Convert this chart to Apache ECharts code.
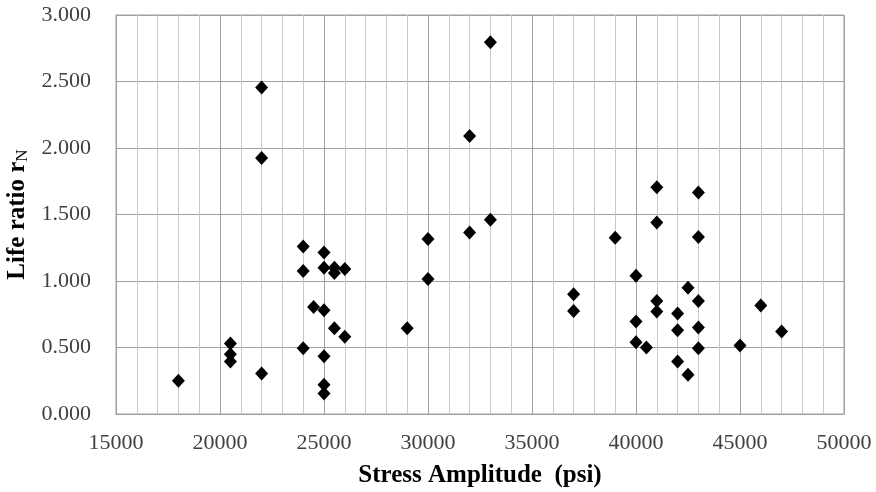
<!DOCTYPE html>
<html>
<head>
<meta charset="utf-8">
<script src="https://cdn.jsdelivr.net/npm/echarts@6/dist/echarts.min.js"></script>
<style>
  html, body { margin: 0; padding: 0; background: #fff; }
  #chart { width: 876px; height: 492px; }
</style>
</head>
<body>
<div id="chart"></div>
<script>
// Stress amplitude (psi) of each specimen
const stressAmplitude = [
  18000,
  20500, 20500, 20500,
  22000, 22000, 22000,
  24000, 24000, 24000,
  24500,
  25000, 25000, 25000, 25000, 25000, 25000,
  25500, 25500, 25500,
  26000, 26000,
  29000,
  30000, 30000,
  32000, 32000,
  33000, 33000,
  37000, 37000,
  39000,
  40000, 40000, 40000,
  40500,
  41000, 41000, 41000, 41000,
  42000, 42000, 42000,
  42500, 42500,
  43000, 43000, 43000, 43000, 43000,
  45000,
  46000,
  47000
];

// Life ratio r_N of each specimen
const lifeRatio = [
  0.250,
  0.530, 0.450, 0.395,
  2.455, 1.925, 0.305,
  1.260, 1.075, 0.495,
  0.805,
  1.215, 1.100, 0.780, 0.435, 0.220, 0.155,
  1.100, 1.060, 0.645,
  1.090, 0.580,
  0.645,
  1.315, 1.015,
  2.090, 1.365,
  2.795, 1.460,
  0.900, 0.775,
  1.325,
  1.040, 0.695, 0.540,
  0.500,
  1.705, 1.440, 0.850, 0.770,
  0.755, 0.630, 0.395,
  0.950, 0.295,
  1.665, 1.330, 0.850, 0.650, 0.495,
  0.515,
  0.815,
  0.620
];

const xTicks = { min: 15000, max: 50000, step: 5000 };
const yTicks = { min: 0, max: 3, step: 0.5 };

const points = stressAmplitude.map((s, i) => [s, lifeRatio[i]]);

const serif = '"Liberation Serif", "Times New Roman", "DejaVu Serif", serif';

const chart = echarts.init(document.getElementById('chart'), null, { renderer: 'canvas' });

chart.setOption({
  backgroundColor: '#ffffff',
  animation: false,
  grid: {
    left: 116,
    right: 32,
    top: 15,
    bottom: 78,
    show: true,
    borderColor: '#a0a0a0',
    borderWidth: 1,
    containLabel: false,
    outerBoundsMode: 'none'
  },
  xAxis: {
    type: 'value',
    min: xTicks.min,
    max: xTicks.max,
    interval: xTicks.step,
    name: 'Stress Amplitude  (psi)',
    nameLocation: 'middle',
    nameGap: 49,
    nameTextStyle: { fontFamily: serif, fontWeight: 'bold', fontSize: 25, color: '#000' },
    axisLine: { show: true, lineStyle: { color: '#a0a0a0', width: 1 } },
    axisTick: { show: false },
    axisLabel: {
      fontFamily: serif, fontSize: 22, color: '#404040', margin: 18,
      formatter: v => String(v)
    },
    splitLine: { show: true, lineStyle: { color: '#a0a0a0', width: 1 } },
    minorTick: { show: false, splitNumber: 5 },
    minorSplitLine: { show: true, lineStyle: { color: '#c8c8c8', width: 1 } }
  },
  yAxis: {
    type: 'value',
    min: yTicks.min,
    max: yTicks.max,
    interval: yTicks.step,
    name: '{t|Life ratio r}{s|N}',
    nameLocation: 'middle',
    nameRotate: 90,
    nameGap: 73,
    nameTextStyle: {
      rich: {
        t: { fontFamily: serif, fontWeight: 'bold', fontSize: 25, color: '#000' },
        s: { fontFamily: serif, fontWeight: 'normal', fontSize: 17, color: '#000', padding: [10, 0, 0, 0] }
      }
    },
    axisLine: { show: true, lineStyle: { color: '#a0a0a0', width: 1 } },
    axisTick: { show: false },
    axisLabel: {
      fontFamily: serif, fontSize: 22, color: '#404040', margin: 25,
      formatter: v => v.toFixed(3)
    },
    splitLine: { show: true, lineStyle: { color: '#a0a0a0', width: 1 } }
  },
  series: [{
    type: 'scatter',
    data: points,
    symbol: 'diamond',
    symbolSize: [13, 14],
    itemStyle: { color: '#000', opacity: 1 }
  }]
});
</script>
</body>
</html>
